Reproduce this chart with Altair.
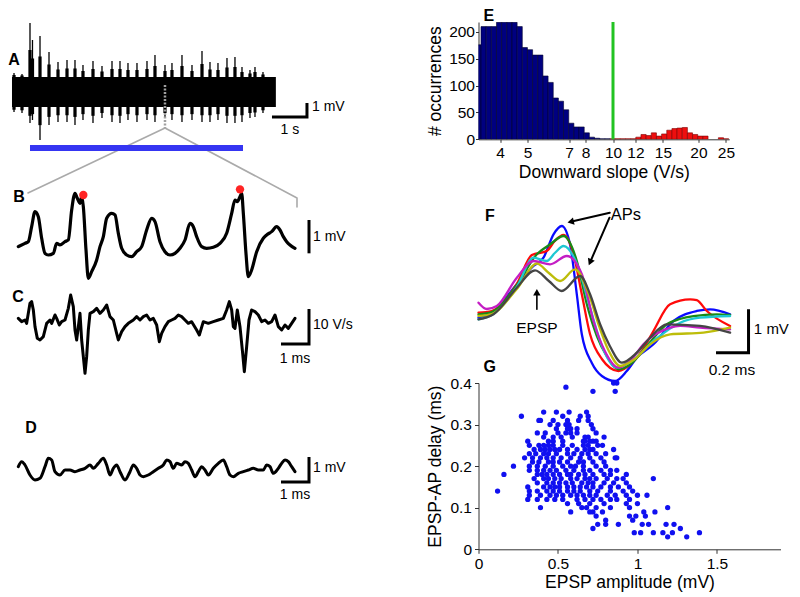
import altair as alt
import pandas as pd
import numpy as np

FONT = "Liberation Sans"

# ---------------- Panel A : long recording (burst envelope), t in s, v in mV ----------------
A_burst_t = [0.056, 0.278, 0.5, 0.569, 0.778, 1.028, 1.278, 1.528, 1.75, 1.972, 2.25, 2.5, 2.778, 3.0, 3.222,
             3.472, 3.75, 3.972, 4.25, 4.444, 4.722, 5.0, 5.278, 5.5, 5.722, 5.972, 6.194, 6.389, 6.611, 6.75,
             6.972, 7.222]
A_burst_top = [1.385, 1.308, 5.231, 3.923, 4.231, 3.0, 2.231, 2.385, 2.385, 2.0, 2.308, 1.923, 2.308, 2.308, 2.154,
               2.154, 2.308, 2.769, 2.0, 2.154, 2.769, 2.0, 3.077, 2.231, 2.154, 2.538, 2.615, 1.846, 1.615, 1.846,
               1.462, 1.077]
A_burst_bot = [-1.615, -1.692, -2.462, -2.231, -3.769, -2.615, -2.385, -2.385, -2.615, -2.231, -2.462, -2.077,
               -2.385, -2.462, -2.231, -2.385, -2.231, -2.385, -2.077, -2.231, -2.385, -2.231, -2.385, -2.385,
               -2.231, -2.462, -2.462, -2.385, -2.077, -2.0, -1.692, -1.231]
A_core_t = [0.0, 7.33]
A_core_hi = [1.08, 1.08]
A_core_lo = [-1.23, -1.23]

# ---------------- Panel B : membrane potential (ms, mV) ----------------
B_t = [0.049, 0.296, 0.420, 0.543, 0.667, 0.790, 0.914, 1.037, 1.160, 1.346, 1.469, 1.593, 1.778, 1.901, 2.025,
       2.148, 2.235, 2.333, 2.395, 2.457, 2.556, 2.642, 2.765, 2.951, 3.074, 3.198, 3.321, 3.506, 3.630, 3.753,
       3.877, 4.062, 4.247, 4.432, 4.617, 4.802, 4.988, 5.111, 5.296, 5.481, 5.667, 5.852, 6.037, 6.222, 6.407,
       6.531, 6.654, 6.840, 7.025, 7.272, 7.519, 7.765, 7.951, 8.074, 8.160, 8.259, 8.321, 8.383, 8.481, 8.568,
       8.691, 8.877, 9.123, 9.247, 9.432, 9.617, 9.741, 9.864, 9.988, 10.111, 10.296]
B_v = [0.101, 0.202, 0.253, 0.707, 1.162, 1.010, 0.354, -0.101, -0.152, -0.101, 0.202, 0.152, 0.253, 0.303, 1.212,
       1.717, 1.566, 1.414, 1.616, 1.313, 0.000, -0.859, -0.657, -0.303, 0.101, 0.404, 0.960, 1.111, 1.061, 0.505,
       0.051, -0.152, -0.202, -0.051, 0.101, 0.606, 0.960, 0.859, 0.253, -0.051, -0.152, -0.101, 0.051, 0.303, 0.808,
       0.707, 0.404, 0.101, 0.051, 0.081, 0.202, 0.505, 1.111, 1.515, 1.465, 1.616, 1.717, 1.111, -0.101, -0.808,
       -0.606, -0.051, 0.354, 0.455, 0.556, 0.707, 0.606, 0.404, 0.253, 0.152, 0.051]
B_dot_t = [2.457, 8.259]
B_dot_v = [1.667, 1.838]

# ---------------- Panel C : derivative (ms, V/s) ----------------
C_t = [0.049, 0.173, 0.296, 0.358, 0.481, 0.543, 0.605, 0.667, 0.753, 0.852, 0.975, 1.099, 1.222, 1.284, 1.407,
       1.469, 1.568, 1.654, 1.778, 1.901, 1.988, 2.086, 2.148, 2.210, 2.272, 2.333, 2.395, 2.457, 2.519, 2.580,
       2.642, 2.704, 2.827, 2.951, 3.074, 3.198, 3.321, 3.444, 3.568, 3.691, 3.753, 3.877, 4.000, 4.123, 4.309,
       4.432, 4.556, 4.679, 4.802, 4.926, 5.049, 5.173, 5.272, 5.358, 5.481, 5.605, 5.728, 5.852, 5.975, 6.099,
       6.222, 6.346, 6.469, 6.654, 6.753, 6.901, 7.086, 7.272, 7.457, 7.642, 7.765, 7.864, 7.951, 8.012, 8.074,
       8.160, 8.259, 8.358, 8.420, 8.506, 8.593, 8.691, 8.815, 8.938, 9.062, 9.185, 9.309, 9.432, 9.556, 9.679,
       9.802, 9.926, 10.049, 10.173, 10.296]
C_v = [0.48, -0.48, 0.00, -0.95, 4.76, 5.24, 2.86, -1.90, -5.24, -5.71, -4.76, -0.95, 0.00, -0.95, 1.43,
       0.48, -1.43, -0.48, 0.00, 3.33, 7.14, 3.81, -2.86, -5.71, -1.90, 1.90, -5.71, -10.48, -15.24, -10.48,
       -2.86, 1.90, 2.38, 3.33, 1.90, 2.86, 4.29, 0.95, 0.00, -3.81, -5.71, -3.33, -1.90, -0.95, 0.00,
       0.95, 0.00, 0.95, 1.43, 0.00, 0.48, -1.43, -6.19, -3.81, -1.90, -0.48, 0.00, 0.48, 1.43, 0.95,
       0.00, -0.95, -0.48, -2.86, -4.29, -0.48, -0.95, -0.48, 0.00, 0.48, 2.86, 5.24, 2.86, -1.90, -2.38,
       2.86, -1.90, -9.52, -14.76, -7.62, 0.00, 2.86, 2.38, 1.43, -0.48, 0.00, -0.95, -0.48, 1.43, -1.90,
       -2.86, -1.43, -2.38, -0.95, 0.48]

# ---------------- Panel D : (ms, mV) ----------------
D_t = [0.049, 0.173, 0.296, 0.481, 0.667, 0.852, 1.037, 1.160, 1.284, 1.407, 1.593, 1.778, 1.963, 2.148, 2.333,
       2.519, 2.704, 2.827, 3.012, 3.198, 3.321, 3.444, 3.568, 3.691, 3.815, 4.000, 4.185, 4.309, 4.432, 4.556,
       4.679, 4.864, 5.049, 5.235, 5.420, 5.543, 5.667, 5.790, 5.914, 6.099, 6.222, 6.346, 6.469, 6.593, 6.716,
       6.840, 6.963, 7.086, 7.272, 7.457, 7.642, 7.765, 7.889, 8.012, 8.198, 8.383, 8.568, 8.753, 8.938, 9.123,
       9.247, 9.370, 9.494, 9.679, 9.802, 9.926, 10.049, 10.173, 10.296]
D_v = [0.133, 0.333, 0.200, -0.200, -0.400, -0.333, 0.133, 0.467, 0.400, -0.067, -0.200, 0.000, 0.000, -0.067, 0.000,
       0.067, 0.200, 0.067, 0.267, 0.467, 0.200, -0.200, 0.067, 0.200, -0.067, -0.400, -0.067, 0.200, 0.067, -0.200,
       -0.267, -0.200, -0.067, 0.067, 0.200, 0.400, 0.333, 0.067, 0.267, 0.200, 0.333, 0.267, 0.000, -0.267, -0.067,
       0.133, 0.000, -0.200, 0.067, 0.267, 0.400, 0.133, -0.200, -0.267, -0.133, -0.067, 0.000, 0.067, 0.000, 0.000,
       0.200, 0.133, -0.133, 0.067, 0.267, 0.400, 0.333, 0.133, -0.067]

# ---------------- Panel E : histogram of downward slope (log bins, 55 per decade) ----------------
E_bin = list(range(-1, 48))
E_counts = [176, 210, 210, 210, 218, 218, 218, 218, 210, 171, 167, 157, 157, 118, 106, 77, 71, 55, 30, 23, 23, 12,
            4, 2, 1, 1,
            1, 1, 1, 1, 1, 4, 9, 7, 12, 6, 10, 17, 20, 21, 22, 12, 9, 6, 6, 0, 0, 3, 1]
E_first_red = 25
E_L0 = 0.5349
E_W = 1 / 55
E_threshold = 10
E_ticks = [4, 5, 7, 8, 10, 12, 15, 20, 25]
E_yticks = [0, 50, 100, 150, 200]

# ---------------- Panel F : overlaid traces (ms, mV) ----------------
F_blue_t = [0, 0.082, 0.237, 0.340, 0.402, 0.464, 0.515, 0.566, 0.608, 0.639, 0.701, 0.763, 0.845, 0.917, 0.979,
            1.082, 1.206, 1.350, 1.432, 1.556]
F_blue_v = [0.076, 0.185, 0.848, 1.270, 1.462, 2.002, 2.194, 1.771, 0.617, -0.307, -0.970, -1.270, -1.386, -1.155,
            -0.848, -0.538, 0.0, 0.231, 0.270, 0.155]
F_red_t = [0, 0.082, 0.237, 0.330, 0.422, 0.472, 0.526, 0.588, 0.639, 0.690, 0.763, 0.866, 0.948, 1.010, 1.082,
           1.185, 1.309, 1.350, 1.412, 1.556]
F_red_v = [0.192, 0.231, 0.855, 1.524, 1.617, 1.848, 1.986, 1.540, 0.617, -0.307, -0.878, -1.155, -0.970, -0.693,
           -0.231, 0.386, 0.501, 0.48, 0.231, -0.115]
F_green_t = [0, 0.082, 0.237, 0.361, 0.443, 0.526, 0.608, 0.670, 0.732, 0.793, 0.866, 0.948, 1.041, 1.165, 1.245,
             1.330, 1.474, 1.556]
F_green_v = [0.155, 0.208, 0.831, 1.540, 1.771, 1.963, 1.386, 0.386, -0.346, -0.808, -1.115, -0.970, -0.577, -0.076,
             0.046, 0.115, 0.155, 0.139]
F_cyan_t = [0, 0.082, 0.237, 0.340, 0.422, 0.472, 0.526, 0.618, 0.690, 0.763, 0.855, 0.948, 1.082, 1.247, 1.370, 1.556]
F_cyan_v = [0.039, 0.139, 0.785, 1.462, 1.386, 1.570, 1.732, 1.231, 0.307, -0.577, -1.079, -0.924, -0.462, -0.039,
            0.076, 0.115]
F_mag_t = [0, 0.051, 0.113, 0.237, 0.340, 0.443, 0.546, 0.639, 0.711, 0.781, 0.866, 0.948, 1.020, 1.185, 1.247,
           1.370, 1.556]
F_mag_v = [0.423, 0.277, 0.346, 1.000, 1.386, 1.309, 1.501, 1.079, 0.000, -0.693, -1.079, -0.878, -0.538, -0.155,
           -0.115, -0.155, -0.192]
F_yel_t = [0, 0.082, 0.237, 0.361, 0.435, 0.505, 0.597, 0.690, 0.742, 0.806, 0.876, 0.967, 1.061, 1.185, 1.391, 1.556]
F_yel_v = [0.115, 0.162, 0.739, 1.323, 1.109, 0.924, 1.194, 0.538, -0.076, -0.693, -1.039, -0.878, -0.538, -0.307,
           -0.270, -0.155]
F_gray_t = [0, 0.093, 0.237, 0.350, 0.435, 0.515, 0.628, 0.690, 0.752, 0.812, 0.886, 0.979, 1.061, 1.165, 1.370, 1.556]
F_gray_v = [0.039, 0.155, 0.769, 1.171, 0.924, 0.693, 1.039, 0.617, -0.076, -0.577, -0.963, -0.732, -0.386, -0.076,
            -0.115, -0.270]

# ---------------- Panel G : scatter (EPSP amplitude mV, delay ms) ----------------
G_delay_levels = [0.40, 0.39, 0.38, 0.33, 0.32, 0.31, 0.30, 0.29, 0.28, 0.27, 0.26, 0.25, 0.24, 0.23, 0.22, 0.21,
                  0.20, 0.19, 0.18, 0.17, 0.16, 0.15, 0.14, 0.13, 0.12, 0.11, 0.10, 0.09, 0.08, 0.07, 0.06, 0.05,
                  0.04, 0.03]
G_amp_rows = [
    [0.85, 0.87],
    [0.55],
    [0.72, 0.86],
    [0.41, 0.49, 0.57, 0.68],
    [0.27, 0.53, 0.64, 0.69],
    [0.38, 0.39, 0.47, 0.56, 0.63, 0.69],
    [0.45, 0.50, 0.55, 0.57, 0.71],
    [0.49, 0.56, 0.58, 0.62, 0.72],
    [0.37, 0.42, 0.50, 0.55, 0.58, 0.62, 0.74],
    [0.41, 0.47, 0.52, 0.59, 0.67, 0.69, 0.79],
    [0.31, 0.44, 0.47, 0.53, 0.66, 0.67, 0.70, 0.72, 0.74],
    [0.32, 0.38, 0.41, 0.44, 0.47, 0.53, 0.59, 0.66, 0.69, 0.75, 0.78],
    [0.35, 0.39, 0.42, 0.45, 0.48, 0.51, 0.56, 0.62, 0.67, 0.70, 0.72, 0.85],
    [0.32, 0.36, 0.41, 0.44, 0.49, 0.56, 0.60, 0.65, 0.69, 0.74, 0.80],
    [0.29, 0.34, 0.39, 0.43, 0.47, 0.52, 0.58, 0.64, 0.70, 0.77, 0.86, 0.87],
    [0.34, 0.38, 0.44, 0.47, 0.51, 0.56, 0.63, 0.66, 0.72, 0.79],
    [0.22, 0.32, 0.37, 0.42, 0.47, 0.53, 0.58, 0.61, 0.66, 0.74, 0.80],
    [0.32, 0.37, 0.41, 0.45, 0.49, 0.55, 0.60, 0.66, 0.70, 0.77, 0.83, 0.87],
    [0.16, 0.37, 0.40, 0.43, 0.47, 0.51, 0.56, 0.58, 0.63, 0.67, 0.72, 0.79, 0.83, 0.93],
    [0.35, 0.41, 0.44, 0.48, 0.52, 0.58, 0.62, 0.67, 0.70, 0.74, 0.81, 0.87, 0.91, 1.10],
    [0.37, 0.43, 0.47, 0.51, 0.55, 0.59, 0.65, 0.69, 0.72, 0.79, 0.85, 0.93],
    [0.31, 0.41, 0.45, 0.48, 0.51, 0.56, 0.60, 0.64, 0.68, 0.72, 0.77, 0.83, 0.88, 0.95],
    [0.12, 0.32, 0.37, 0.43, 0.47, 0.51, 0.56, 0.60, 0.64, 0.70, 0.75, 0.83, 0.91, 0.97],
    [0.32, 0.39, 0.45, 0.49, 0.53, 0.58, 0.62, 0.66, 0.70, 0.74, 0.81, 0.86, 0.93, 1.00, 1.06],
    [0.31, 0.37, 0.43, 0.48, 0.53, 0.62, 0.67, 0.72, 0.77, 0.83, 0.87, 0.95],
    [0.56, 0.63, 0.70, 0.79, 0.93, 1.00],
    [0.39, 0.65, 0.68, 0.74, 0.83, 0.95, 1.19],
    [0.58, 0.70, 0.72, 0.78, 1.04, 1.11],
    [0.74, 0.95, 0.99, 1.05],
    [0.80, 0.97],
    [0.75, 0.80, 0.88, 1.03, 1.07, 1.18, 1.23],
    [0.72, 1.27],
    [0.98, 1.02, 1.10, 1.16, 1.22, 1.39],
    [1.19, 1.31],
]


# ======================= helpers =======================
def S(dom, typ="linear"):
    if typ == "log":
        return alt.Scale(type="log", domain=dom, nice=False)
    return alt.Scale(domain=dom, nice=False, zero=False)


def line(t, v, xd, yd, color="black", w=3.0, interp="linear", dash=None, cap="round", join="round"):
    df = pd.DataFrame({"t": t, "v": v, "i": np.arange(len(t))})
    kw = dict(color=color, strokeWidth=w, interpolate=interp, strokeCap=cap, strokeJoin=join)
    if dash:
        kw["strokeDash"] = dash
    return alt.Chart(df).mark_line(**kw).encode(
        x=alt.X("t:Q", scale=S(xd), axis=None),
        y=alt.Y("v:Q", scale=S(yd), axis=None),
        order="i:Q")


def texts(rows, xd, yd, size=14, weight="normal", align="left", baseline="middle", xtype="linear",
          xaxis=None, yaxis=None):
    df = pd.DataFrame(rows, columns=["s", "t", "v"])
    return alt.Chart(df).mark_text(font=FONT, fontSize=size, fontWeight=weight, align=align,
                                   baseline=baseline, color="black").encode(
        x=alt.X("t:Q", scale=S(xd, xtype), axis=xaxis),
        y=alt.Y("v:Q", scale=S(yd), axis=yaxis),
        text="s:N")


LW = 330
# ======================= Panel A =======================
A_xd = [-0.111, 9.056]
A_yd = [-5.308, 6.385]
A_core = pd.DataFrame({"t": A_core_t, "hi": A_core_hi, "lo": A_core_lo})
A_b = pd.DataFrame({"t": A_burst_t, "top": A_burst_top, "bot": A_burst_bot})
A_b["t0"] = A_b.t - 0.045
A_b["t1"] = A_b.t + 0.045
A_b["s_top"] = 1.08 + 0.5 * (A_b.top - 1.08)
A_b["s_bot"] = -1.23 + 0.55 * (A_b.bot + 1.23)

a_core = alt.Chart(A_core).mark_area(color="black").encode(
    x=alt.X("t:Q", scale=S(A_xd), axis=None), y=alt.Y("hi:Q", scale=S(A_yd), axis=None), y2="lo:Q")
a_sh = alt.Chart(A_b).mark_rect(color="black").encode(
    x=alt.X("t0:Q", scale=S(A_xd), axis=None), x2="t1:Q",
    y=alt.Y("s_top:Q", scale=S(A_yd), axis=None), y2="s_bot:Q")
a_sp = alt.Chart(A_b).mark_rule(color="black", strokeWidth=1.3).encode(
    x=alt.X("t:Q", scale=S(A_xd), axis=None),
    y=alt.Y("top:Q", scale=S(A_yd), axis=None), y2="bot:Q")
a_dash = line([4.25, 4.25], [0.46, -2.846], A_xd, A_yd, color="#a0a0a0", w=2.5, dash=[2, 1.5], cap="butt")
a_zoom = line([0.444, 4.25, 7.917, 7.917], [-7.846, -2.846, -8.23, -8.923], A_xd, A_yd, color="#aaaaaa", w=1.6)
a_bar = line([7.222, 8.194, 8.194], [-2.0, -2.0, -0.923], A_xd, A_yd, w=3, cap="butt", join="miter")
a_blue = line([0.5, 6.417], [-4.385, -4.385], A_xd, A_yd, color="#3535f2", w=6, cap="butt")
a_txt = texts([["1 mV", 8.333, -1.23]], A_xd, A_yd, size=14)
a_txt2 = texts([["1 s", 7.72, -3.0]], A_xd, A_yd, size=14, align="center")
a_lab = texts([["A", 0.056, 2.385]], A_xd, A_yd, size=16, weight="bold", align="center")
panelA = alt.layer(a_core, a_sh, a_sp, a_dash, a_zoom, a_bar, a_blue, a_txt, a_txt2, a_lab).properties(
    width=LW, height=152)

# ======================= Panel B =======================
T_xd = [-0.333, 11.889]
B_yd = [-1.061, 2.727]
b_tr = line(B_t, B_v, T_xd, B_yd, w=3.2, interp="monotone")
b_dot = alt.Chart(pd.DataFrame({"t": B_dot_t, "v": B_dot_v})).mark_circle(color="#ff2424", size=70, opacity=1).encode(
    x=alt.X("t:Q", scale=S(T_xd), axis=None), y=alt.Y("v:Q", scale=S(B_yd), axis=None))
b_bar = line([10.815, 10.815], [-0.101, 0.909], T_xd, B_yd, w=3, cap="butt")
b_txt = texts([["1 mV", 10.963, 0.394]], T_xd, B_yd, size=14)
b_lab = texts([["B", 0.074, 1.606]], T_xd, B_yd, size=16, weight="bold", align="center")
panelB = alt.layer(b_tr, b_dot, b_bar, b_txt, b_lab).properties(width=LW, height=125)

# ======================= Panel C =======================
C_yd = [-22.857, 10.0]
c_tr = line(C_t, C_v, T_xd, C_yd, w=3.0)
c_bar = line([9.778, 10.815, 10.815], [-6.857, -6.857, 3.143], T_xd, C_yd, w=3, cap="butt", join="miter")
c_txt = texts([["10 V/s", 10.963, -1.43]], T_xd, C_yd, size=14)
c_txt2 = texts([["1 ms", 10.296, -11.06]], T_xd, C_yd, size=14, align="center")
c_lab = texts([["C", 0.037, 6.571]], T_xd, C_yd, size=16, weight="bold", align="center")
panelC = alt.layer(c_tr, c_bar, c_txt, c_txt2, c_lab).properties(width=LW, height=115)

# ======================= Panel D =======================
D_yd = [-1.6, 2.8]
d_tr = line(D_t, D_v, T_xd, D_yd, w=3.0, interp="monotone")
d_bar = line([9.778, 10.815, 10.815], [-0.48, -0.48, 0.52], T_xd, D_yd, w=3, cap="butt", join="miter")
d_txt = texts([["1 mV", 10.963, 0.08]], T_xd, D_yd, size=14)
d_txt2 = texts([["1 ms", 10.296, -1.0]], T_xd, D_yd, size=14, align="center")
d_lab = texts([["D", 0.519, 1.68]], T_xd, D_yd, size=16, weight="bold", align="center")
panelD = alt.layer(d_tr, d_bar, d_txt, d_txt2, d_lab).properties(width=LW, height=110)

left = alt.vconcat(panelA, panelB, panelC, panelD, spacing=0, bounds="flush")

# ======================= Panel E =======================
E_xd = [3.358, 25.67]
E_yd = [0, 218.6]
E_xaxis = alt.Axis(values=E_ticks, format="d", title="Downward slope (V/s)", tickSize=3, labelPadding=3,
                   titlePadding=3, labelFlush=False, labelOverlap=False, domainColor="#333333",
                   tickColor="#333333")
E_yaxis = alt.Axis(values=E_yticks, title="# occurrences", tickSize=3, labelPadding=1, titlePadding=4,
                   domainColor="#333333", tickColor="#333333")
E_df = pd.DataFrame({"j": E_bin, "n": E_counts})
E_df["lo"] = 10 ** (E_L0 + E_df.j * E_W)
E_df["hi"] = 10 ** (E_L0 + (E_df.j + 1) * E_W)
E_df["grp"] = np.where(E_df.j < E_first_red, "below", "above")
E_df["zero"] = 0
E_df = E_df[E_df.n > 0]
e_bars = alt.Chart(E_df).mark_rect(clip=True, strokeWidth=0.6).encode(
    x=alt.X("lo:Q", scale=S(E_xd, "log"), axis=E_xaxis),
    x2="hi:Q",
    y=alt.Y("n:Q", scale=S(E_yd), axis=E_yaxis),
    y2="zero:Q",
    color=alt.Color("grp:N", scale=alt.Scale(domain=["below", "above"], range=["#000080", "#ee0f0f"]), legend=None),
    stroke=alt.Stroke("grp:N", scale=alt.Scale(domain=["below", "above"], range=["#00002a", "#7a0000"]),
                      legend=None))
e_green = alt.Chart(pd.DataFrame({"x": [E_threshold], "y0": [0], "y1": [E_yd[1]]})).mark_rule(
    color="#22c322", strokeWidth=3).encode(
    x=alt.X("x:Q", scale=S(E_xd, "log"), axis=E_xaxis), y=alt.Y("y0:Q", scale=S(E_yd), axis=E_yaxis), y2="y1:Q")
e_lab = texts([["E", 3.648, 229.0]], E_xd, E_yd, size=16, weight="bold", align="center", xtype="log",
              xaxis=E_xaxis, yaxis=E_yaxis)
panelE = alt.layer(e_bars, e_green, e_lab).properties(width=250.7, height=117.3)

# ======================= Panel F =======================
F_xd = [0, 1.8677]
F_yd = [-1.432, 4.180]
f_layers = []
for tt, vv, col in [(F_blue_t, F_blue_v, "#0a0aff"), (F_red_t, F_red_v, "#ff0a0a"),
                    (F_green_t, F_green_v, "#178a17"), (F_cyan_t, F_cyan_v, "#1ec8d2"),
                    (F_mag_t, F_mag_v, "#c41ec4"), (F_yel_t, F_yel_v, "#bdbd0a"),
                    (F_gray_t, F_gray_v, "#454545")]:
    f_layers.append(line(tt, vv, F_xd, F_yd, color=col, w=2.3, interp="monotone"))
f_ar1 = line([0.812, 0.570], [2.501, 2.291], F_xd, F_yd, w=2)
f_ar2 = line([0.810, 0.690], [2.386, 1.356], F_xd, F_yd, w=2)
f_ar3 = line([0.361, 0.361], [0.270, 0.663], F_xd, F_yd, w=1.6)
heads = []
for tt, vv, ang in [(0.570, 2.291, 257), (0.690, 1.356, 203.5), (0.361, 0.663, 0)]:
    heads.append(alt.Chart(pd.DataFrame({"t": [tt], "v": [vv]})).mark_point(
        shape="triangle-up", filled=True, size=55, angle=ang, color="black", opacity=1).encode(
        x=alt.X("t:Q", scale=S(F_xd), axis=None), y=alt.Y("v:Q", scale=S(F_yd), axis=None)))
f_bar = line([1.469, 1.670, 1.670], [-0.732, -0.732, 0.270], F_xd, F_yd, w=3, cap="butt", join="miter")
f_t1 = texts([["APs", 0.911, 2.448]], F_xd, F_yd, size=16.5, align="center")
f_t2 = texts([["EPSP", 0.361, -0.155], ["0.2 ms", 1.567, -1.132]], F_xd, F_yd, size=15.5, align="center")
f_t3 = texts([["1 mV", 1.703, -0.185]], F_xd, F_yd, size=15)
f_lab = texts([["F", 0.070, 2.425], ["G", 0.070, -1.062]], F_xd, F_yd, size=16, weight="bold", align="center")
panelF = alt.layer(*f_layers, f_ar1, f_ar2, f_ar3, *heads, f_bar, f_t1, f_t2, f_t3, f_lab).properties(
    width=302, height=243)

# ======================= Panel G =======================
G_amp = [a for row in G_amp_rows for a in row]
G_delay = [d for d, row in zip(G_delay_levels, G_amp_rows) for _ in row]
G_df = pd.DataFrame({"amp": G_amp, "delay": G_delay})
panelG = alt.Chart(G_df).mark_circle(color="#1010f0", size=28, opacity=1).encode(
    x=alt.X("amp:Q", scale=S([0, 1.9]),
            axis=alt.Axis(values=[0, 0.5, 1, 1.5], format="~g", title="EPSP amplitude (mV)", tickSize=4,
                          labelPadding=3, titlePadding=2, labelFlush=False, domainColor="#333333",
                          tickColor="#333333")),
    y=alt.Y("delay:Q", scale=S([0, 0.4]),
            axis=alt.Axis(values=[0, 0.1, 0.2, 0.3, 0.4], format="~g", title="EPSP-AP delay (ms)", tickSize=4,
                          labelPadding=3, titlePadding=5, labelFlush=False, domainColor="#333333",
                          tickColor="#333333"))
).properties(width=302, height=166.3)

spacer = alt.Chart(pd.DataFrame({"a": [0]})).mark_point(opacity=0, size=1).encode(
    x=alt.value(5), y=alt.value(7)).properties(width=302, height=13.7)

right = alt.vconcat(spacer, panelE, panelF, panelG, spacing=0, bounds="flush")

chart = alt.hconcat(left, right, spacing=73.5, bounds="full").properties(padding=0).configure_view(
    stroke=None).configure_axis(
    labelFont=FONT, titleFont=FONT, labelFontSize=15.5, titleFontSize=17.5, titleFontWeight="normal",
    labelColor="black", titleColor="black", grid=False)

chart.save("out.html", embed_options={"renderer": "svg", "actions": False})
